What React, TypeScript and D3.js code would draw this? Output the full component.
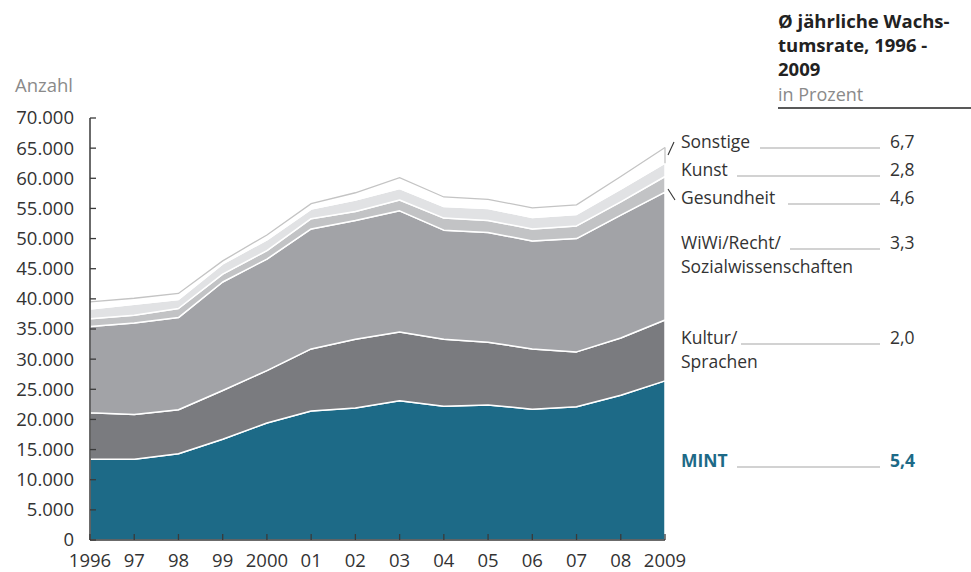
import React from "react";
import * as d3 from "d3";

const years = [1996, 1997, 1998, 1999, 2000, 2001, 2002, 2003, 2004, 2005, 2006, 2007, 2008, 2009];
const yearLabels = ["1996", "97", "98", "99", "2000", "01", "02", "03", "04", "05", "06", "07", "08", "2009"];

const mint = [13400, 13400, 14300, 16700, 19400, 21400, 21900, 23100, 22200, 22400, 21700, 22100, 24000, 26400];
const kultur = [7700, 7400, 7300, 8100, 8700, 10300, 11400, 11400, 11100, 10400, 10000, 9100, 9500, 10100];
const wiwi = [14300, 15200, 15300, 18000, 18500, 19900, 19700, 20100, 18100, 18200, 17900, 18800, 20400, 21200];
const gesundheit = [1300, 1300, 1500, 1300, 1400, 1700, 1500, 1800, 2000, 2000, 2000, 2100, 2200, 2600];
const kunst = [1600, 1800, 1500, 1700, 1800, 1600, 1900, 1900, 1900, 2000, 1900, 1900, 2100, 2200];
const sonstige = [1200, 1000, 1000, 500, 800, 900, 1200, 1800, 1600, 1500, 1600, 1600, 2100, 2600];

const keys = ["mint", "kultur", "wiwi", "gesundheit", "kunst", "sonstige"];
const fills = ["#1d6a87", "#7a7b7f", "#a2a3a7", "#c2c3c5", "#e1e2e4", "#ffffff"];

const yTicks = [0, 5000, 10000, 15000, 20000, 25000, 30000, 35000, 40000, 45000, 50000, 55000, 60000, 65000, 70000];

// legend: label lines, growth rate, line start
const legend = [
  { lines: ["Sonstige"], rate: "6,7", y: 148, x1: 760 },
  { lines: ["Kunst"], rate: "2,8", y: 176, x1: 737 },
  { lines: ["Gesundheit"], rate: "4,6", y: 204, x1: 788 },
  { lines: ["WiWi/Recht/", "Sozialwissenschaften"], rate: "3,3", y: 249, x1: 790 },
  { lines: ["Kultur/", "Sprachen"], rate: "2,0", y: 344, x1: 741 },
  { lines: ["MINT"], rate: "5,4", y: 467, x1: 737, bold: true },
];

const font = "'Open Sans', 'Noto Sans', sans-serif";
const textColor = "#333";

export default function App() {
  const width = 971;
  const height = 572;
  const x = d3.scaleLinear().domain([1996, 2009]).range([90, 665]);
  const y = d3.scaleLinear().domain([0, 70000]).range([540, 118]);

  const table = years.map((yr, i) => ({
    year: yr,
    mint: mint[i],
    kultur: kultur[i],
    wiwi: wiwi[i],
    gesundheit: gesundheit[i],
    kunst: kunst[i],
    sonstige: sonstige[i],
  }));
  const series = d3.stack<any>().keys(keys)(table);

  const area = d3
    .area<any>()
    .x((d) => x(d.data.year))
    .y0((d) => y(d[0]))
    .y1((d) => y(d[1]));

  const top = series[series.length - 1];
  const topLine = d3
    .line<any>()
    .x((d) => x(d.data.year))
    .y((d) => y(d[1]))(top);
  const last = top[top.length - 1];
  const fmt = (v: number) => (v === 0 ? "0" : d3.format(",")(v).replace(/,/g, "."));

  return (
    <svg width={width} height={height} style={{ position: "absolute", left: 0, top: 0 }} fontFamily={font}>
      {series.map((s, i) => (
        <path key={i} d={area(s) || ""} fill={fills[i]} stroke="#fff" strokeWidth={1.5} strokeLinejoin="round" />
      ))}
      <path d={topLine || ""} fill="none" stroke="#c4c4c4" strokeWidth={1.3} />
      <line x1={x(last.data.year)} x2={x(last.data.year)} y1={y(last[1])} y2={y(last[0])} stroke="#c4c4c4" strokeWidth={1.3} />

      {/* y axis */}
      <line x1={90} x2={90} y1={y(70000)} y2={y(0)} stroke="#3a3a3a" strokeWidth={1.5} />
      {yTicks.map((t) => (
        <g key={t}>
          <line x1={90} x2={96} y1={y(t)} y2={y(t)} stroke="#3a3a3a" strokeWidth={1.3} />
          <text x={74} y={y(t)} dy="0.35em" textAnchor="end" fontSize={18.5} fill={textColor}>
            {fmt(t)}
          </text>
        </g>
      ))}
      <text x={15} y={92} fontSize={18.5} fill="#8a8a8a">Anzahl</text>

      {/* x axis */}
      <line x1={x(1996)} x2={x(2009)} y1={540} y2={540} stroke="#3a3a3a" strokeWidth={1.5} />
      {years.map((yr, i) => (
        <g key={yr}>
          <line x1={x(yr)} x2={x(yr)} y1={540} y2={534} stroke="#3a3a3a" strokeWidth={1.3} />
          <text x={x(yr)} y={567} textAnchor="middle" fontSize={18.5} fill={textColor}>
            {yearLabels[i]}
          </text>
        </g>
      ))}

      {/* title */}
      <g fontSize={18.5} fontWeight="bold" fill="#222">
        <text x={778} y={28}>Ø jährliche Wachs-</text>
        <text x={778} y={52}>tumsrate, 1996 -</text>
        <text x={778} y={76}>2009</text>
      </g>
      <text x={778} y={101} fontSize={18} fill="#8a8a8a">in Prozent</text>
      <line x1={778} x2={971} y1={108} y2={108} stroke="#222" strokeWidth={1.3} />

      {/* legend */}
      {legend.map((l) => (
        <g key={l.rate + l.lines[0]}>
          {l.lines.map((ln, j) => (
            <text
              key={j}
              x={681}
              y={l.y + j * 24}
              fontSize={17.5}
              fontWeight={l.bold ? "bold" : "normal"}
              fill={l.bold ? "#1d6a87" : textColor}
            >
              {ln}
            </text>
          ))}
          <line x1={l.x1} x2={880} y1={l.y} y2={l.y} stroke="#a5a5a5" strokeWidth={1.2} />
          <text x={890} y={l.y} fontSize={17.5} fontWeight={l.bold ? "bold" : "normal"} fill={l.bold ? "#1d6a87" : textColor}>
            {l.rate}
          </text>
        </g>
      ))}
      <line x1={668} x2={674} y1={155} y2={142} stroke="#333" strokeWidth={1.1} />
      <line x1={668} x2={675} y1={189} y2={200} stroke="#333" strokeWidth={1.1} />
    </svg>
  );
}
